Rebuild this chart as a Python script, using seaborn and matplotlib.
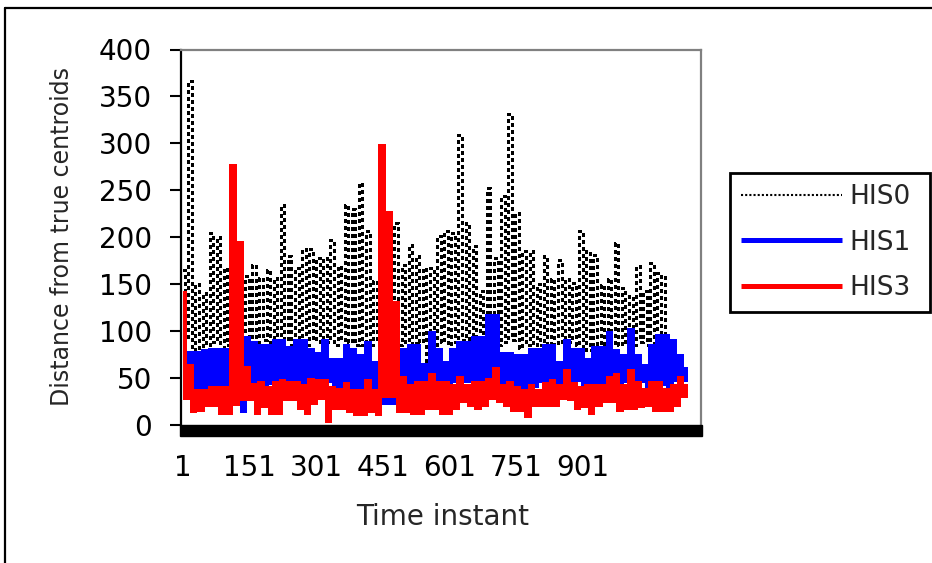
import numpy as np
import matplotlib
matplotlib.use("Agg")
import matplotlib.pyplot as plt
import seaborn as sns
from matplotlib.lines import Line2D
from matplotlib.patches import Rectangle

# Distance from true centroids, sampled every 8 time instants starting at instant 1
his0 = [165, 90, 366, 80, 150, 82, 140, 85, 204, 88, 200, 80, 167, 85, 160, 90,
        167, 85, 158, 88, 170, 85, 156, 90, 165, 85, 156, 80, 234, 90, 180, 85,
        167, 88, 187, 85, 187, 90, 178, 85, 178, 88, 197, 85, 169, 90, 234, 88,
        230, 85, 258, 85, 206, 85, 153, 88, 160, 85, 171, 90, 215, 85, 170, 88,
        192, 85, 180, 88, 167, 68, 167, 85, 201, 88, 206, 85, 204, 88, 309, 90,
        215, 85, 190, 88, 142, 85, 252, 88, 178, 85, 244, 88, 331, 90, 226, 82,
        185, 85, 185, 85, 150, 85, 180, 85, 155, 85, 176, 85, 155, 88, 151, 85,
        206, 80, 185, 80, 181, 82, 149, 85, 155, 85, 194, 85, 146, 85, 137, 85,
        169, 88, 142, 85, 172, 85, 162, 85, 162]

his1 = [60, 30, 76, 37, 76, 36, 78, 36, 80, 37, 80, 37, 80, 37, 80, 25,
        98, 14, 92, 38, 87, 39, 84, 40, 84, 44, 89, 44, 89, 44, 82, 44,
        89, 44, 89, 39, 80, 46, 75, 46, 89, 46, 69, 30, 69, 39, 84, 36,
        80, 36, 73, 36, 87, 36, 66, 40, 101, 23, 76, 23, 55, 41, 80, 41,
        84, 41, 84, 41, 64, 44, 98, 44, 80, 44, 66, 44, 80, 46, 87, 46,
        87, 46, 92, 46, 92, 46, 116, 48, 116, 40, 75, 37, 75, 37, 73, 36,
        73, 36, 80, 41, 80, 46, 84, 43, 84, 43, 66, 43, 89, 48, 80, 48,
        80, 36, 69, 41, 82, 41, 82, 41, 98, 41, 78, 41, 73, 46, 101, 46,
        73, 46, 62, 39, 84, 43, 94, 43, 94, 37, 89, 48, 73, 48, 59]

his3 = [140, 28, 62, 14, 36, 16, 36, 21, 39, 21, 39, 12, 39, 12, 276, 22,
        194, 27, 60, 27, 42, 12, 44, 20, 39, 12, 44, 12, 46, 27, 44, 27,
        44, 18, 41, 12, 48, 23, 46, 28, 46, 4, 39, 18, 37, 18, 43, 14,
        36, 11, 36, 11, 46, 14, 36, 11, 297, 30, 226, 30, 130, 14, 50, 14,
        41, 12, 44, 12, 44, 18, 53, 18, 44, 12, 44, 12, 41, 18, 50, 25,
        41, 21, 44, 18, 44, 21, 48, 28, 59, 25, 41, 21, 44, 16, 39, 16,
        36, 9, 41, 21, 36, 21, 43, 21, 46, 21, 41, 28, 57, 27, 43, 18,
        39, 20, 41, 12, 41, 21, 41, 25, 50, 25, 53, 16, 41, 18, 57, 18,
        44, 20, 37, 21, 44, 16, 44, 16, 37, 16, 41, 21, 50, 30, 41]

series_names = ["HIS0", "HIS1", "HIS3"]
series_colors = ["black", "#0000ff", "#ff0000"]
sample_step = 8
x_ticks = [1, 151, 301, 451, 601, 751, 901]
y_ticks = [0, 50, 100, 150, 200, 250, 300, 350, 400]

sns.set_style("white")
plt.rcParams["font.family"] = ["DejaVu Sans"]

W, H = 932, 563
fig = plt.figure(figsize=(W / 100, H / 100), dpi=100)
ax = fig.add_axes([181 / W, 1 - 424.5 / H, 520 / W, 375 / H])

for name, vals, color in zip(series_names, [his0, his1, his3], series_colors):
    t = np.arange(len(vals)) * sample_step + 1
    sns.lineplot(x=t, y=vals, ax=ax, color=color, label=name, legend=False,
                 drawstyle="steps-mid", antialiased=False,
                 solid_joinstyle="miter", solid_capstyle="butt",
                 lw=2.4 if name == "HIS0" else 2.7)

lines = ax.get_lines()
lines[0].set_linestyle((0, (1, 1)))

ax.set_xlim(-3.5, 1167)
ax.set_ylim(0, 400)
ax.set_xticks(x_ticks)
ax.set_xticklabels([str(v) for v in x_ticks])
ax.set_yticks(y_ticks)
ax.set_yticklabels([str(v) for v in y_ticks])

ax.tick_params(axis="y", direction="out", length=8, width=1.5, pad=13,
               labelsize=20, colors="black", left=True)
ax.tick_params(axis="x", length=0, pad=21, labelsize=20, colors="black")

for side in ["top", "right"]:
    ax.spines[side].set_color("#808080")
    ax.spines[side].set_linewidth(1.6)
ax.spines["left"].set_color("black")
ax.spines["left"].set_linewidth(1.6)
ax.spines["bottom"].set_visible(False)

# heavy category-axis bar under the plot area
ax.add_patch(Rectangle((-1 / 520, -11.5 / 375), 522 / 520, 11.5 / 375,
                       transform=ax.transAxes, color="black", clip_on=False,
                       zorder=6))

ax.set_xlabel("Time instant", fontsize=20)
ax.xaxis.set_label_coords((443 - 181) / 520, (424.5 - 503) / 375)
ax.set_ylabel("Distance from true centroids", fontsize=17)
ax.yaxis.set_label_coords((74 - 181) / 520, 0.5)

leg = ax.legend(loc="upper left",
                bbox_to_anchor=(730 / W, 1 - 307 / H, 200 / W, 134 / H),
                bbox_transform=fig.transFigure, mode="expand",
                frameon=True, fancybox=False, edgecolor="black", fontsize=19,
                handlelength=3.85, handletextpad=0.25, borderpad=0.41,
                labelspacing=0.75, borderaxespad=0)
leg.get_frame().set_linewidth(2)
leg.get_frame().set_alpha(1)
for hl, name in zip(leg.get_lines(), series_names):
    if name == "HIS0":
        hl.set_linewidth(1.5)
        hl.set_linestyle((0, (1, 1)))
    else:
        hl.set_linewidth(3.6)

# figure frame (top and left edges)
fig.add_artist(Line2D([5 / W, 1], [1 - 8 / H, 1 - 8 / H], color="black",
                      lw=1.6, transform=fig.transFigure))
fig.add_artist(Line2D([5 / W, 5 / W], [0, 1 - 8 / H], color="black",
                      lw=1.6, transform=fig.transFigure))

fig.savefig("out.png", dpi=100)
